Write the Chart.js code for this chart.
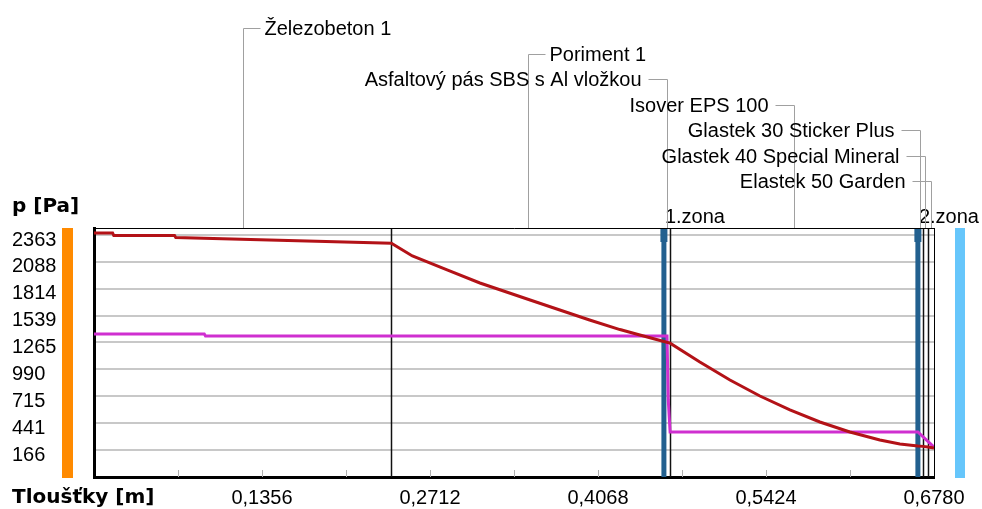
<!DOCTYPE html>
<html>
<head>
<meta charset="utf-8">
<title>Tlak vodní páry</title>
<script src="https://cdn.jsdelivr.net/npm/chart.js@4/dist/chart.umd.min.js"></script>
<style>
  html, body { margin: 0; padding: 0; background: #fff; }
  canvas { display: block; }
</style>
</head>
<body>
<canvas id="pressureChart" width="982" height="509"></canvas>
<script>
'use strict';

// ─── Data ───
const layerNames = [
  'Železobeton 1',
  'Poriment 1',
  'Asfaltový pás SBS s Al vložkou',
  'Isover EPS 100',
  'Glastek 30 Sticker Plus',
  'Glastek 40 Special Mineral',
  'Elastek 50 Garden'
];
const layerBounds = [0, 0.24, 0.46, 0.465, 0.665, 0.669, 0.673, 0.678];

const zoneNames = ['1.zona', '2.zona'];
const zoneX = [0.46, 0.665];

// partial pressure of water vapour (red)
const redX = [0, 0.015, 0.016, 0.065, 0.066, 0.24, 0.257, 0.285, 0.3115, 0.352, 0.376, 0.400, 0.4245, 0.4406,
  0.46, 0.465, 0.489, 0.5133, 0.5375, 0.5617, 0.5859, 0.6101, 0.6343, 0.6505, 0.665, 0.669, 0.673, 0.678];
const redY = [2384, 2384, 2358, 2358, 2338, 2280, 2149, 2006, 1873, 1699, 1597, 1495, 1397, 1341,
  1275, 1258, 1065, 881, 718, 575, 452, 350, 268, 227, 207, 203, 196, 186];

// saturated pressure (magenta)
const magentaX = [0, 0.089, 0.09, 0.4625, 0.4635, 0.465, 0.665, 0.678];
const magentaY = [1351, 1351, 1331, 1331, 680, 350, 350, 196];

const yTicks = [166, 441, 715, 990, 1265, 1539, 1814, 2088, 2363];
const xTicks = [0.0678, 0.1356, 0.2034, 0.2712, 0.339, 0.4068, 0.4746, 0.5424, 0.6102, 0.678];
const xLabels = ['', '0,1356', '', '0,2712', '', '0,4068', '', '0,5424', '', '0,6780'];

const yTitle = 'p [Pa]';
const xTitle = 'Tloušťky [m]';

// ─── Styling ───
const FONT = '"Liberation Sans", Arial, sans-serif';
const BOLD = 'bold 20px "DejaVu Sans", sans-serif';
const RED = '#b31217';
const MAGENTA = '#cf2fd0';
const ZONE_BLUE = '#22608f';

function line(ctx, x1, y1, x2, y2) {
  ctx.beginPath();
  ctx.moveTo(x1, y1);
  ctx.lineTo(x2, y2);
  ctx.stroke();
}

const overlay = {
  id: 'overlay',
  beforeDatasetsDraw(chart) {
    const { ctx, chartArea: a, scales: { x } } = chart;
    ctx.save();

    // small inner tick marks on the bottom axis
    ctx.strokeStyle = '#b0b0b0';
    ctx.lineWidth = 1;
    xTicks.forEach(v => {
      const px = Math.round(x.getPixelForValue(v)) + 0.5;
      line(ctx, px, a.bottom - 7, px, a.bottom);
    });

    // layer boundaries
    ctx.strokeStyle = '#111';
    ctx.lineWidth = 1.5;
    layerBounds.slice(1, -1).forEach(b => {
      const px = Math.round(x.getPixelForValue(b)) + 0.5;
      line(ctx, px, a.top, px, a.bottom);
    });

    // zone markers
    ctx.fillStyle = ZONE_BLUE;
    zoneX.forEach(v => {
      const px = x.getPixelForValue(v);
      ctx.fillRect(px - 2.5, a.top, 5, a.bottom - a.top);
      ctx.fillRect(px - 3.5, a.top, 7, 14);
    });
    ctx.restore();
  },
  afterDraw(chart) {
    const { ctx, chartArea: a, scales: { x, y } } = chart;
    ctx.save();

    // top + right frame
    ctx.strokeStyle = '#000';
    ctx.lineWidth = 1;
    line(ctx, a.left, a.top + 0.5, a.right + 0.5, a.top + 0.5);
    line(ctx, a.right + 0.5, a.top, a.right + 0.5, a.bottom);

    // zone colour bars
    ctx.fillStyle = '#ff8a00';
    ctx.fillRect(a.left - 32, a.top, 11, a.bottom - a.top + 1);
    ctx.fillStyle = '#66c6fb';
    ctx.fillRect(a.right + 21, a.top, 10, a.bottom - a.top + 1);

    // axis titles
    ctx.fillStyle = '#000';
    ctx.font = BOLD;
    ctx.textAlign = 'left';
    ctx.textBaseline = 'alphabetic';
    ctx.fillText(yTitle, 12, a.top - 16);
    ctx.fillText(xTitle, 12, 503);

    // y tick labels (left aligned, sitting a bit under the grid line)
    ctx.font = '20px ' + FONT;
    ctx.textBaseline = 'middle';
    yTicks.forEach(v => {
      ctx.fillText(String(v), 12, y.getPixelForValue(v) + 5);
    });

    // zone labels
    ctx.textBaseline = 'alphabetic';
    zoneNames.forEach((name, i) => {
      ctx.fillText(name, x.getPixelForValue(zoneX[i]) + 1, a.top - 5);
    });

    // layer names with leader lines
    ctx.textBaseline = 'middle';
    ctx.strokeStyle = '#a0a0a0';
    ctx.lineWidth = 1;
    layerNames.forEach((name, i) => {
      const mid = x.getPixelForValue((layerBounds[i] + layerBounds[i + 1]) / 2);
      const lx = Math.round(mid) + 0.5;
      const ly = Math.round(28 + i * 25.5) + 0.5;
      line(ctx, lx, ly, lx, a.top);
      if (i < 2) {
        line(ctx, lx, ly, lx + 17, ly);
        ctx.textAlign = 'left';
        ctx.fillText(name, lx + 21, ly + 1);
      } else {
        line(ctx, lx - 19, ly, lx, ly);
        ctx.textAlign = 'right';
        ctx.fillText(name, lx - 26, ly + 1);
      }
    });
    ctx.restore();
  }
};

const ctx = document.getElementById('pressureChart').getContext('2d');
new Chart(ctx, {
  type: 'scatter',
  data: {
    datasets: [
      {
        label: 'p',
        data: redX.map((v, i) => ({ x: v, y: redY[i] })),
        showLine: true,
        borderColor: RED,
        borderWidth: 3,
        pointRadius: 0,
        tension: 0,
      },
      {
        label: 'p sat',
        data: magentaX.map((v, i) => ({ x: v, y: magentaY[i] })),
        showLine: true,
        borderColor: MAGENTA,
        borderWidth: 3,
        pointRadius: 0,
        tension: 0,
      },
    ],
  },
  options: {
    responsive: false,
    animation: false,
    devicePixelRatio: 1,
    layout: { padding: { left: 12, top: 228, right: 48, bottom: 0 } },
    plugins: { legend: { display: false }, tooltip: { enabled: false } },
    scales: {
      x: {
        type: 'linear',
        min: 0,
        max: 0.678,
        afterBuildTicks: s => { s.ticks = xTicks.map(v => ({ value: v })); },
        afterFit: s => { s.height = 32; },
        grid: { display: false },
        border: { color: '#000', width: 3 },
        ticks: {
          autoSkip: false,
          maxRotation: 0,
          padding: 1,
          color: '#000',
          font: { family: FONT, size: 20 },
          callback: (v, i) => xLabels[i],
        },
      },
      y: {
        type: 'linear',
        min: -110,
        max: 2435,
        afterBuildTicks: s => { s.ticks = yTicks.map(v => ({ value: v })); },
        afterFit: s => { s.width = 82; },
        grid: { color: '#c8c8c8', lineWidth: 2, drawTicks: false },
        border: { color: '#000', width: 3 },
        ticks: { display: false },
      },
    },
  },
  plugins: [overlay],
});
</script>
</body>
</html>
